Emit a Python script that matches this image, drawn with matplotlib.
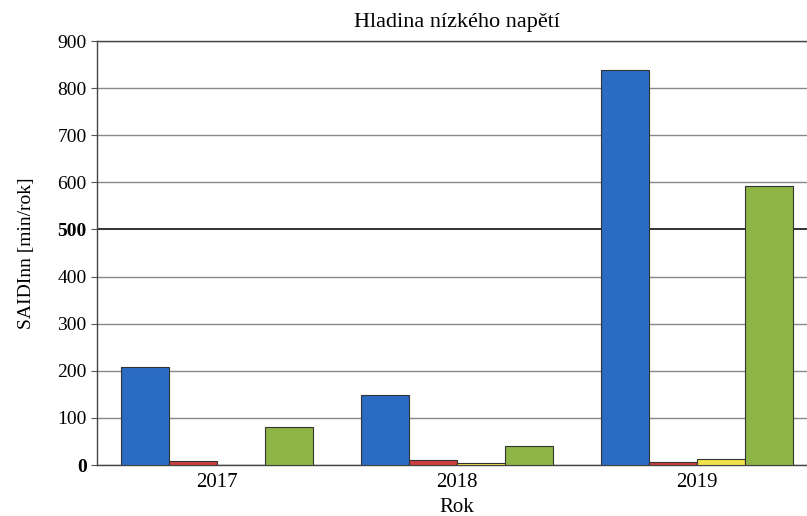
import numpy as np
import matplotlib
matplotlib.use('Agg')
import matplotlib.pyplot as plt

# Data
years = ['2017', '2018', '2019']
blue_vals = [208, 148, 838]
red_vals = [9, 10, 7]
yellow_vals = [1, 5, 12]
green_vals = [80, 40, 592]

series = [blue_vals, red_vals, yellow_vals, green_vals]
colors = ['#2a6cc4', '#cc3f3f', '#f2e24a', '#8fb446']

plt.rcParams['font.family'] = ['Liberation Serif', 'DejaVu Serif']

fig = plt.figure(figsize=(8.07, 5.16), dpi=100)
# the plot area runs slightly past the right edge, like the scan
ax = fig.add_axes([97 / 807, 1 - 465 / 516, 720 / 807, 424 / 516])

x = np.arange(len(years))
w = 0.2
for i, (vals, c) in enumerate(zip(series, colors)):
    ax.bar(x + (i - 1.5) * w, vals, width=w, color=c, edgecolor='#333333',
           linewidth=0.8, zorder=3)

ax.set_xlim(-0.5, 2.5)
ax.set_ylim(0, 900)
ax.set_yticks(range(0, 1000, 100))
ax.set_xticks(x)
ax.set_xticklabels(years, fontsize=15)
ax.tick_params(axis='y', labelsize=14, length=4, color='#555555')
ax.tick_params(axis='x', length=0, pad=6)
for lbl in ax.get_yticklabels():
    if lbl.get_text() in ('0', '500'):
        lbl.set_fontweight('bold')

ax.yaxis.grid(True, color='#888888', linewidth=1.0, zorder=0)
ax.get_ygridlines()[5].set_color('#222222')
ax.get_ygridlines()[5].set_linewidth(1.3)

for s in ['left', 'top', 'bottom']:
    ax.spines[s].set_color('#444444')
    ax.spines[s].set_linewidth(1.0)
ax.spines['right'].set_visible(False)

ax.set_xlabel('Rok', fontsize=15, labelpad=4)
ax.set_ylabel('SAIDInn [min/rok]', fontsize=14, labelpad=16)
ax.set_title('Hladina nízkého napětí', fontsize=16, pad=10)

fig.savefig('out.png', dpi=100)
